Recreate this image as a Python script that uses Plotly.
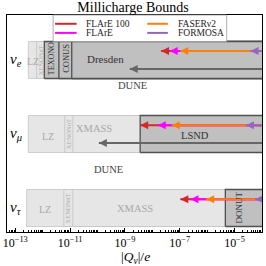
import numpy as np
import plotly.graph_objects as go

# ---------------- data ----------------
flavor_y = [2, 1, 0]                      # nu_e, nu_mu, nu_tau rows
flavor_labels = ["<i>ν</i><sub><i>e</i></sub>",
                 "<i>ν</i><sub><i>μ</i></sub>",
                 "<i>ν</i><sub><i>τ</i></sub>"]

# existing bounds (light: direct-detection; dark: reactor / accelerator)
light_names = ["LZ", "XENONnT", "XMASS"]
light_e = [3.0e-13, 6.0e-13, None]
light_mu = [3.0e-13, 6.4e-12, 1.26e-11]
light_tau = [2.6e-13, 5.9e-12, 1.25e-11]

dark_names_e = ["TEXONO", "CONUS", "Dresden"]
dark_vals_e = [1.15e-12, 3.9e-12, 1.15e-11]
dark_names_mu = ["LSND"]
dark_vals_mu = [3.6e-9]
dark_names_tau = ["DONUT"]
dark_vals_tau = [4.6e-6]

# DUNE projections (nu_e, nu_mu)
dune_vals = [1.5e-9, 1.12e-10]

# forward-physics-facility projections (nu_e, nu_mu, nu_tau)
proj_names = ["FLArE 100", "FLArE", "FASERν2", "FORMOSA"]
flare100 = [2.07e-8, 3.6e-9, 1.05e-7]
flare = [4.3e-8, 1.58e-8, 2.45e-7]
faser2 = [1.05e-7, 5.1e-8, 9.2e-7]
formosa = [3.8e-5, 2.6e-5, 5.6e-5]
proj_vals = [flare100, flare, faser2, formosa]
proj_colors = ["#d62728", "#ff00ff", "#ff7f0e", "#9467bd"]

x_ticks = [1e-13, 1e-11, 1e-9, 1e-7, 1e-5]
x_tick_labels = ["10<sup>−13</sup>", "10<sup>−11</sup>", "10<sup>−9</sup>",
                 "10<sup>−7</sup>", "10<sup>−5</sup>"]

# ---------------- style ----------------
FONT = "Liberation Serif, Times New Roman, serif"
XEND = 1e-3
HALF = 0.25
LIGHT_FILL, LIGHT_EDGE, LIGHT_TXT = "#e6e6e6", "#c4c4c4", "#a8a8a8"
DARK_FILL, DARK_EDGE, DARK_TXT = "#c0c0c0", "#505050", "#333333"
DUNE_COL = "#666666"

W, H = 266, 266
ML, MR, MT, MB = 3, 3, 15, 34
XR = [-13.301, -4.0]
YR = [-0.324, 2.608]


def px2paper_x(px):
    return (px - ML) / (W - ML - MR)


def py2paper_y(py):
    return (H - MB - py) / (H - MT - MB)


fig = go.Figure()


def rect(x0, yc, fill, edge, lw):
    fig.add_trace(go.Scatter(
        x=[x0, XEND, XEND, x0, x0],
        y=[yc - HALF, yc - HALF, yc + HALF, yc + HALF, yc - HALF],
        mode="lines", fill="toself", fillcolor=fill,
        line=dict(color=edge, width=lw), hoverinfo="skip", showlegend=False))


# light bands
for yc, vals in zip(flavor_y, [light_e, light_mu, light_tau]):
    for v in vals:
        if v is not None:
            rect(v, yc, LIGHT_FILL, LIGHT_EDGE, 0.8)

# dark bands
for yc, vals in zip(flavor_y, [dark_vals_e, dark_vals_mu, dark_vals_tau]):
    for v in vals:
        rect(v, yc, DARK_FILL, DARK_EDGE, 1.3)


def arrows(tips, ys, color, lw=2, size=8):
    xs, yy = [], []
    for t, y in zip(tips, ys):
        xs += [t, XEND, None]
        yy += [y, y, None]
    fig.add_trace(go.Scatter(x=xs, y=yy, mode="lines",
                             line=dict(color=color, width=lw),
                             hoverinfo="skip", showlegend=False))
    fig.add_trace(go.Scatter(x=list(tips), y=list(ys), mode="markers",
                             marker=dict(symbol="arrow-left", size=size, color=color,
                                         line=dict(width=0)),
                             hoverinfo="skip", showlegend=False))


# DUNE arrows
arrows(dune_vals, [flavor_y[0] - 0.12, flavor_y[1] - 0.12], DUNE_COL)

# projections
for vals, col in zip(proj_vals, proj_colors):
    arrows(vals, [y + 0.12 for y in flavor_y], col)

# ---------------- labels ----------------
ann = []


def lab(text, xval, y, color, size, angle=0):
    ann.append(dict(x=np.log10(xval), y=y, xref="x", yref="y", text=text,
                    showarrow=False, textangle=angle,
                    font=dict(family=FONT, size=size, color=color),
                    xanchor="center", yanchor="middle"))


# nu_e
lab("LZ", 4.6e-13, 1.986, LIGHT_TXT, 10)
lab("XENONnT", 8.2e-13, 2.0, LIGHT_TXT, 6.5, -90)
lab("TEXONO", 2.12e-12, 2.02, DARK_TXT, 8, -90)
lab("CONUS", 6.7e-12, 2.02, DARK_TXT, 8.5, -90)
lab("Dresden", 1.97e-10, 2.014, DARK_TXT, 11)
lab("DUNE", 1.9e-9, 1.649, "#444444", 10.5)
# nu_mu
lab("LZ", 1.53e-12, 0.973, LIGHT_TXT, 10)
lab("XENONnT", 8.75e-12, 0.993, LIGHT_TXT, 6.5, -90)
lab("XMASS", 7.3e-11, 1.068, LIGHT_TXT, 10.5)
lab("LSND", 3.7e-7, 0.986, DARK_TXT, 10.5)
lab("DUNE", 2.42e-10, 0.527, "#444444", 10.5)
# nu_tau
lab("LZ", 1.24e-12, -0.0135, LIGHT_TXT, 10)
lab("XENONnT", 8.3e-12, -0.007, LIGHT_TXT, 6.5, -90)
lab("XMASS", 2.24e-9, 0.0, LIGHT_TXT, 10.5)
lab("DONUT", 1.5e-5, 0.013, DARK_TXT, 9, -90)

# row labels
for y, t in zip(flavor_y, flavor_labels):
    ann.append(dict(x=px2paper_x(12), y=y, xref="paper", yref="y", text=t,
                    showarrow=False, font=dict(family=FONT, size=15, color="black"),
                    xanchor="center", yanchor="middle"))

# axis title
ann.append(dict(x=px2paper_x(134), y=py2paper_y(257), xref="paper", yref="paper",
                text="|<i>Q</i><sub><i>ν</i></sub>|/<i>e</i>", showarrow=False,
                font=dict(family=FONT, size=13.5, color="black"),
                xanchor="center", yanchor="middle"))

# ---------------- manual legend ----------------
shapes = [dict(type="rect", xref="paper", yref="paper",
               x0=px2paper_x(50), x1=px2paper_x(227), y0=py2paper_y(41.5), y1=1.0,
               fillcolor="white", line=dict(color="#999999", width=0.8), layer="above")]
leg_pos = [(52, 74, 81, 23.8), (52, 74, 81, 32.9), (146, 167, 175, 23.8), (146, 167, 175, 32.9)]
for i, (lx0, lx1, tx, ty) in enumerate(leg_pos):
    shapes.append(dict(type="line", xref="paper", yref="paper",
                       x0=px2paper_x(lx0), x1=px2paper_x(lx1),
                       y0=py2paper_y(ty), y1=py2paper_y(ty),
                       line=dict(color=proj_colors[i], width=2), layer="above"))
    ann.append(dict(x=px2paper_x(tx), y=py2paper_y(ty), xref="paper", yref="paper",
                    text=proj_names[i], showarrow=False,
                    font=dict(family=FONT, size=9.5, color="#222222"),
                    xanchor="left", yanchor="middle"))

fig.update_layout(
    width=W, height=H,
    margin=dict(l=ML, r=MR, t=MT, b=MB),
    paper_bgcolor="white", plot_bgcolor="white",
    showlegend=False,
    title=dict(text="Millicharge Bounds", x=0.5, xanchor="center",
               y=1 - 7.5 / H, yanchor="middle",
               font=dict(family=FONT, size=14, color="black")),
    annotations=ann,
    shapes=shapes,
)
fig.update_xaxes(type="log", range=XR, tickvals=x_ticks, ticktext=x_tick_labels,
                 ticklabeloverflow="allow",
                 showgrid=False, zeroline=False, showline=True, mirror=True,
                 linecolor="black", linewidth=1,
                 ticks="inside", ticklen=4, tickcolor="black",
                 minor=dict(ticks="inside", ticklen=2, tickcolor="black", dtick="D1",
                            showgrid=False),
                 tickfont=dict(family=FONT, size=12, color="black"))
fig.update_yaxes(range=YR, showticklabels=False, ticks="", showgrid=False,
                 zeroline=False, showline=True, mirror=True,
                 linecolor="black", linewidth=1)

fig.write_html("out.html", config={"displayModeBar": False},
               post_script="document.body.style.margin='0px';document.body.style.overflow='hidden';")
